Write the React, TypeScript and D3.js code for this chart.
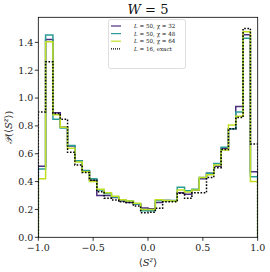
import * as d3 from "d3";

// histogram values per bin (30 bins over [-1, 1])
const chi32 = [0.51, 1.42, 0.895, 0.79, 0.655, 0.55, 0.475, 0.41, 0.3, 0.3, 0.285, 0.26, 0.25, 0.24, 0.21, 0.205, 0.25, 0.265, 0.26, 0.32, 0.31, 0.34, 0.42, 0.46, 0.51, 0.64, 0.78, 0.94, 1.455, 0.47];
const chi48 = [0.49, 1.452, 0.847, 0.785, 0.66, 0.55, 0.48, 0.42, 0.34, 0.315, 0.29, 0.27, 0.26, 0.24, 0.19, 0.19, 0.265, 0.265, 0.265, 0.36, 0.335, 0.345, 0.43, 0.46, 0.53, 0.646, 0.78, 0.9, 1.43, 0.435];
const chi64 = [0.42, 1.404, 0.88, 0.79, 0.64, 0.54, 0.47, 0.4, 0.345, 0.32, 0.295, 0.27, 0.26, 0.245, 0.2, 0.2, 0.27, 0.265, 0.26, 0.34, 0.325, 0.34, 0.43, 0.45, 0.52, 0.627, 0.806, 0.87, 1.476, 0.4];
const exact16 = [0.9, 1.26, 0.89, 0.847, 0.61, 0.52, 0.465, 0.41, 0.327, 0.28, 0.268, 0.255, 0.25, 0.225, 0.177, 0.18, 0.208, 0.255, 0.255, 0.316, 0.28, 0.32, 0.32, 0.43, 0.5, 0.63, 0.78, 0.86, 1.5, 0.67];

const xTicks = [-1, -0.5, 0, 0.5, 1];
const yTicks = [0, 0.2, 0.4, 0.6, 0.8, 1.0, 1.2, 1.4];

const SERIES = [
  { chi: "32", values: chi32, color: "#4b2d7f", dash: "" },
  { chi: "48", values: chi48, color: "#2a9c96", dash: "" },
  { chi: "64", values: chi64, color: "#bfe022", dash: "" },
  { chi: "", values: exact16, color: "#000000", dash: "1.6,1.6" },
];

const FONT = "'DejaVu Serif', serif";
const M = { left: 38.3, right: 257.7, top: 17.3, bottom: 237.3 };

function stepPath(values: number[], x: d3.ScaleLinear<number, number>, y: d3.ScaleLinear<number, number>) {
  const n = values.length;
  const pts: [number, number][] = [[-1, 0]];
  values.forEach((v, i) => {
    pts.push([-1 + (2 * i) / n, v]);
    pts.push([-1 + (2 * (i + 1)) / n, v]);
  });
  pts.push([1, 0]);
  return d3.line<[number, number]>().x((d) => x(d[0])).y((d) => y(d[1]))(pts) ?? "";
}

export default function App() {
  const x = d3.scaleLinear().domain([-1, 1]).range([M.left, M.right]);
  const y = d3.scaleLinear().domain([0, 1.58]).range([M.bottom, M.top]);
  const cx = (M.left + M.right) / 2;
  const cy = (M.top + M.bottom) / 2;

  return (
    <svg width={270} height={272} style={{ position: "absolute", left: 0, top: 0, background: "#fff" }}>
      <defs>
        <clipPath id="plot">
          <rect x={M.left} y={M.top - 2} width={M.right - M.left} height={M.bottom - M.top + 2} />
        </clipPath>
      </defs>

      {/* histograms */}
      <g clipPath="url(#plot)">
        {SERIES.map((s, i) => (
          <path
            key={i}
            d={stepPath(s.values, x, y)}
            fill="none"
            stroke={s.color}
            strokeWidth={1.5}
            strokeDasharray={s.dash || undefined}
          />
        ))}
      </g>

      {/* frame */}
      <rect x={M.left} y={M.top} width={M.right - M.left} height={M.bottom - M.top} fill="none" stroke="#000" strokeWidth={0.8} />

      {/* y ticks */}
      {yTicks.map((t) => (
        <g key={t}>
          <line x1={M.left - 3.5} x2={M.left} y1={y(t)} y2={y(t)} stroke="#000" strokeWidth={0.8} />
          <text x={M.left - 5} y={y(t)} dy="0.35em" textAnchor="end" fontFamily={FONT} fontSize={9.5} fill="#222">
            {t.toFixed(1)}
          </text>
        </g>
      ))}

      {/* x ticks */}
      {xTicks.map((t) => (
        <g key={t}>
          <line x1={x(t)} x2={x(t)} y1={M.bottom} y2={M.bottom + 3.5} stroke="#000" strokeWidth={0.8} />
          <text x={x(t)} y={M.bottom + 14} textAnchor="middle" fontFamily={FONT} fontSize={9.5} fill="#222">
            {t < 0 ? "\u2212" + Math.abs(t).toFixed(1) : t.toFixed(1)}
          </text>
        </g>
      ))}

      {/* axis titles */}
      <text x={cx} y={266} textAnchor="middle" fontFamily={FONT} fontSize={10} fill="#222">
        ⟨<tspan fontStyle="italic">S</tspan>
        <tspan dy={-4} fontSize={7} fontStyle="italic">z</tspan>
        <tspan dy={4}>⟩</tspan>
      </text>
      <text transform={`translate(12,${cy}) rotate(-90)`} textAnchor="middle" fontFamily={FONT} fontSize={10} fill="#222">
        <tspan fontStyle="italic">𝒫</tspan>(⟨<tspan fontStyle="italic">S</tspan>
        <tspan dy={-4} fontSize={7} fontStyle="italic">z</tspan>
        <tspan dy={4}>⟩)</tspan>
      </text>

      {/* title */}
      <text x={cx} y={14} textAnchor="middle" fontFamily={FONT} fontSize={13} fill="#111">
        <tspan fontStyle="italic">W</tspan> = 5
      </text>

      {/* legend */}
      <g>
        <rect x={108.5} y={19.5} width={77} height={49} rx={2} fill="#fff" fillOpacity={0.85} stroke="#d0d0d0" strokeWidth={0.7} />
        {SERIES.map((s, i) => {
          const ly = 26 + i * 7.6;
          return (
            <g key={i}>
              <line x1={111} x2={121} y1={ly} y2={ly} stroke={s.color} strokeWidth={1.2} strokeDasharray={s.dash ? "1,1" : undefined} />
              <text x={134} y={ly} dy="0.35em" fontFamily={FONT} fontSize={5.6} fill="#222">
                <tspan fontStyle="italic">L</tspan>
                {s.chi ? ` = 50, χ = ${s.chi}` : " = 16, exact"}
              </text>
            </g>
          );
        })}
      </g>
    </svg>
  );
}
